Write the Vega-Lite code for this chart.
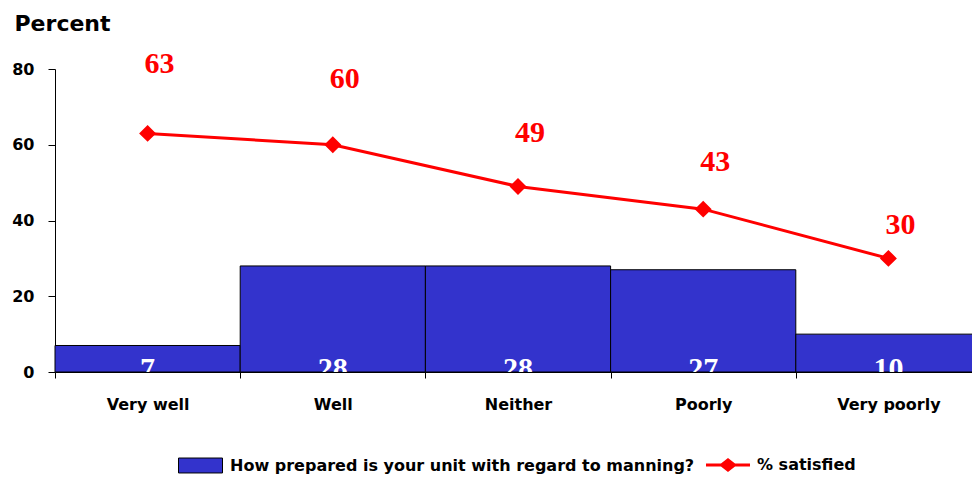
{
  "$schema": "https://vega.github.io/schema/vega-lite/v6.json",
  "width": 926,
  "height": 303,
  "autosize": "none",
  "padding": {"left": 55, "top": 69, "right": -9, "bottom": 108},
  "background": "white",
  "data": {"values": [
    {"category": "Very well", "prepared": 7, "satisfied": 63},
    {"category": "Well", "prepared": 28, "satisfied": 60},
    {"category": "Neither", "prepared": 28, "satisfied": 49},
    {"category": "Poorly", "prepared": 27, "satisfied": 43},
    {"category": "Very poorly", "prepared": 10, "satisfied": 30}
  ]},
  "config": {
    "view": {"stroke": null},
    "axis": {
      "grid": false,
      "domainColor": "black",
      "domainWidth": 1,
      "tickColor": "black",
      "tickWidth": 1,
      "labelColor": "black",
      "labelFont": "DejaVu Sans",
      "labelFontWeight": "bold",
      "labelFontSize": 16
    },
    "legend": {
      "title": null,
      "orient": "none",
      "direction": "horizontal",
      "padding": 0,
      "labelFont": "DejaVu Sans",
      "labelFontWeight": "bold",
      "labelFontSize": 16,
      "labelColor": "black",
      "labelOffset": 7,
      "labelLimit": 800,
      "symbolSize": 1936,
      "symbolOpacity": 1
    }
  },
  "encoding": {
    "x": {
      "field": "category",
      "type": "nominal",
      "sort": null,
      "scale": {"paddingInner": 0, "paddingOuter": 0},
      "axis": {"title": null, "labelAngle": 0, "tickBand": "extent", "tickSize": 6, "labelPadding": 18, "labelBaseline": "top"}
    }
  },
  "layer": [
    {
      "layer": [
        {
          "mark": {"type": "bar", "stroke": "black", "strokeWidth": 1, "opacity": 1},
          "encoding": {
            "y": {
              "field": "prepared",
              "type": "quantitative",
              "scale": {"domain": [0, 80], "nice": false},
              "axis": {
                "values": [0, 20, 40, 60, 80],
                "tickSize": 7,
                "labelPadding": 14,
                "title": "Percent",
                "titleAngle": 0,
                "titleAlign": "left",
                "titleBaseline": "alphabetic",
                "titleX": -41,
                "titleY": -39,
                "titleFont": "DejaVu Sans",
                "titleFontWeight": "bold",
                "titleFontSize": 22,
                "titleColor": "black"
              }
            },
            "fill": {
              "datum": "How prepared is your unit with regard to manning?",
              "type": "nominal",
              "scale": {"range": ["#3333CC"]},
              "legend": {
                "legendX": 123,
                "legendY": 374,
                "symbolType": "M-1,-0.34H1V0.34H-1Z",
                "symbolStrokeColor": "black",
                "symbolStrokeWidth": 1
              }
            }
          }
        },
        {
          "mark": {"type": "text", "color": "white", "font": "Liberation Serif", "fontWeight": "bold", "fontSize": 30, "baseline": "alphabetic", "dy": 6, "clip": true},
          "encoding": {
            "y": {"datum": 0, "type": "quantitative"},
            "text": {"field": "prepared", "type": "quantitative"}
          }
        },
        {
          "mark": {"type": "line", "strokeWidth": 3, "point": {"shape": "diamond", "size": 200, "filled": true, "color": "#FF0000", "opacity": 1}},
          "encoding": {
            "y": {"field": "satisfied", "type": "quantitative"},
            "stroke": {
              "datum": "% satisfied",
              "type": "nominal",
              "scale": {"range": ["#FF0000"]},
              "legend": {
                "legendX": 651,
                "legendY": 374,
                "symbolType": "M-1,-0.07H-0.32L0,-0.32L0.32,-0.07H1V0.07H0.32L0,0.32L-0.32,0.07H-1Z",
                "symbolFillColor": "#FF0000",
                "symbolStrokeColor": "#FF0000",
                "symbolStrokeWidth": 0
              }
            }
          }
        }
      ]
    },
    {
      "mark": {"type": "text", "color": "#FF0000", "font": "Liberation Serif", "fontWeight": "bold", "fontSize": 30, "baseline": "middle", "dx": 12},
      "encoding": {
        "y": {"field": "satisfied", "type": "quantitative", "scale": {"domain": [0, 62], "nice": false}, "axis": null},
        "text": {"field": "satisfied", "type": "quantitative"}
      }
    }
  ],
  "resolve": {"scale": {"y": "independent"}}
}
